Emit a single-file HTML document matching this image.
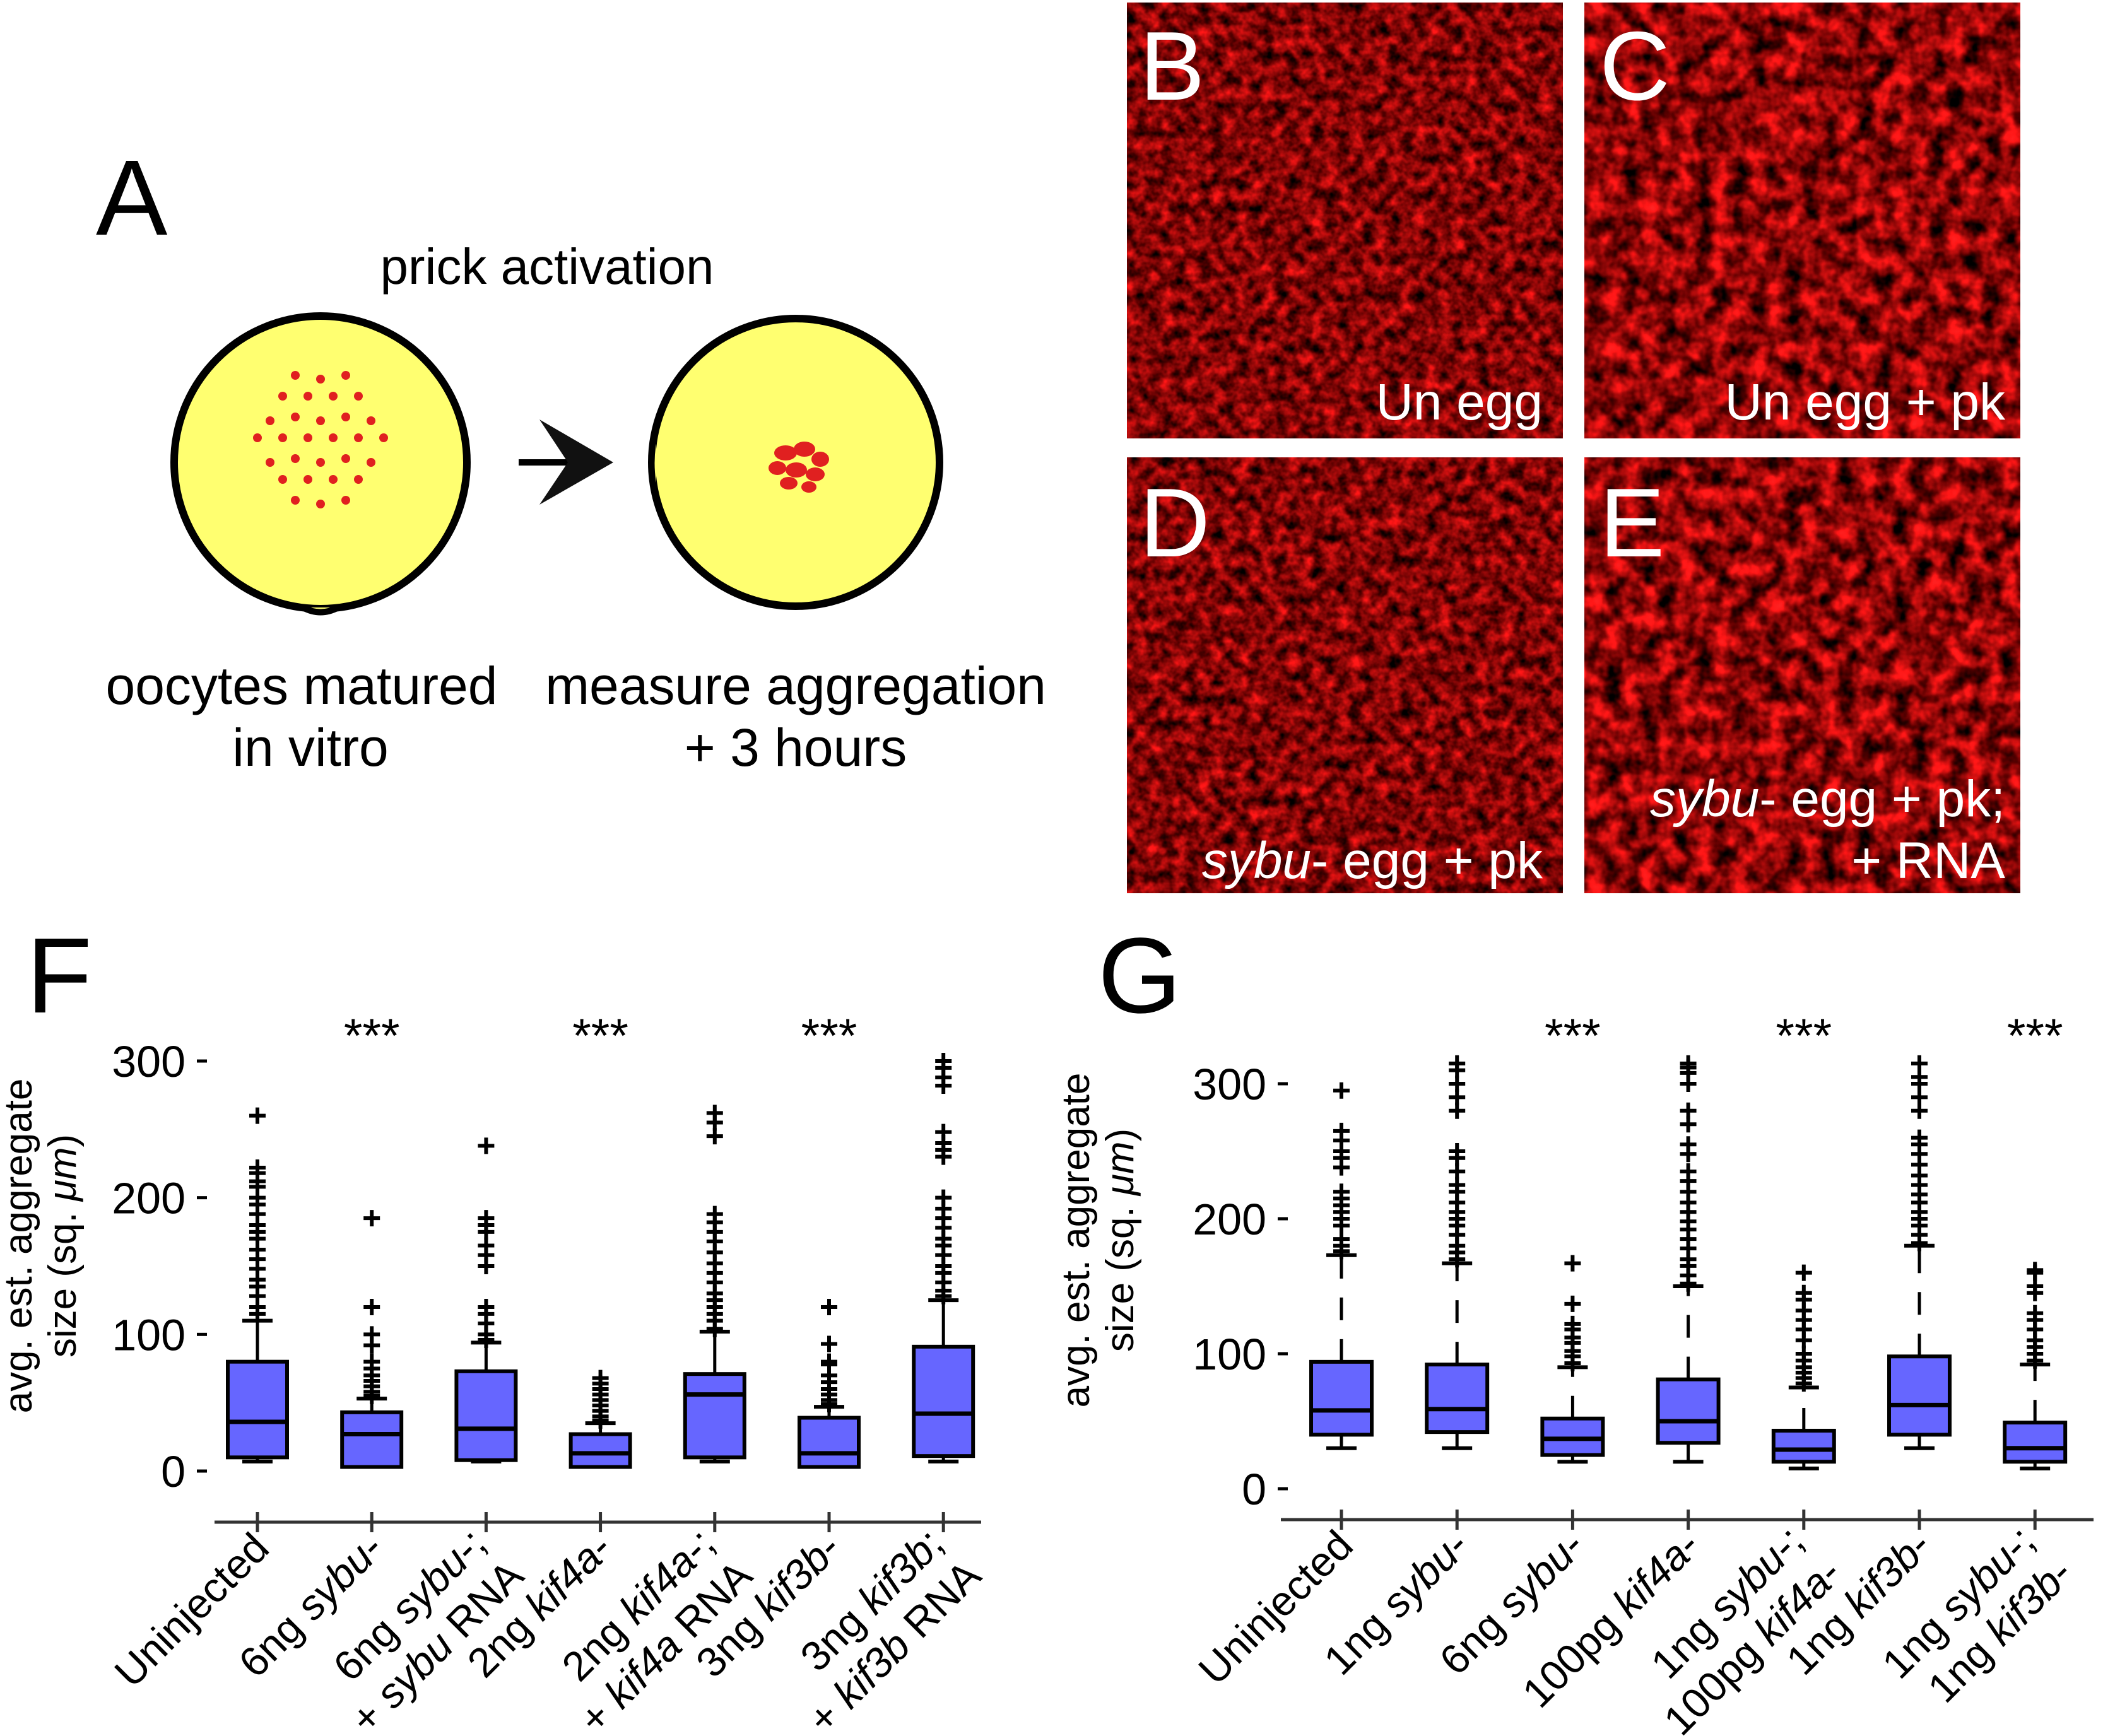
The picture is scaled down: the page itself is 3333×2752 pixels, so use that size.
<!DOCTYPE html>
<html><head><meta charset="utf-8"><style>
html,body{margin:0;padding:0;background:#fff;}
svg{display:block;font-family:"Liberation Sans",Arial,sans-serif;}
</style></head><body>
<svg id="fig" width="3333" height="2752" viewBox="0 0 3333 2752" xmlns="http://www.w3.org/2000/svg">
<defs>
<filter id="fluor" x="0" y="0" width="100%" height="100%" color-interpolation-filters="sRGB">
<feTurbulence type="fractalNoise" baseFrequency="0.05" numOctaves="3" seed="7" result="n"/>
<feColorMatrix type="matrix" values="1.5 0 0 0 -0.25  0.2 0 0 0 -0.08  0.2 0 0 0 -0.08  0 0 0 0 1"/>
</filter>
<filter id="fluor2" x="0" y="0" width="100%" height="100%" color-interpolation-filters="sRGB">
<feTurbulence type="fractalNoise" baseFrequency="0.035" numOctaves="3" seed="3" result="n"/>
<feColorMatrix type="matrix" values="1.8 0 0 0 -0.35  0.25 0 0 0 -0.1  0.25 0 0 0 -0.1  0 0 0 0 1"/>
</filter>
</defs>
<g>
<text x="152" y="372" font-size="170">A</text>
<text x="867" y="450" font-size="80" text-anchor="middle">prick activation</text>
<circle cx="508" cy="733" r="232" fill="#ffff70" stroke="#000" stroke-width="12"/>
<path d="M480 963 Q508 978 536 963" fill="#ffff70" stroke="#000" stroke-width="10"/>
<g id="dots" fill="#e02020"></g>
<circle cx="1261" cy="733" r="228" fill="#ffff70" stroke="#000" stroke-width="12"/>
<path d="M1040 680 Q1025 733 1040 790" fill="#ffff70" stroke="#000" stroke-width="10"/>
<g fill="#e02020">
<ellipse cx="1245" cy="718" rx="18" ry="12"/><ellipse cx="1275" cy="712" rx="17" ry="12"/><ellipse cx="1300" cy="728" rx="14" ry="12"/>
<ellipse cx="1232" cy="742" rx="14" ry="11"/><ellipse cx="1262" cy="745" rx="17" ry="12"/><ellipse cx="1292" cy="752" rx="15" ry="11"/>
<ellipse cx="1250" cy="766" rx="14" ry="10"/><ellipse cx="1282" cy="772" rx="12" ry="9"/>
</g>
<path d="M822 733 L930 733" stroke="#000" stroke-width="10"/>
<path d="M972 733 L855 665 L900 733 L855 800 Z" fill="#111"/>
<text x="478" y="1116" font-size="84" text-anchor="middle">oocytes matured</text>
<text x="492" y="1214" font-size="84" text-anchor="middle">in vitro</text>
<text x="1261" y="1116" font-size="84" text-anchor="middle">measure aggregation</text>
<text x="1261" y="1214" font-size="84" text-anchor="middle">+ 3 hours</text>
</g>
<g>
<rect x="1786" y="4" width="691" height="691" fill="#600" filter="url(#fluor)"/>
<text x="1806" y="158" font-size="155" fill="#fff">B</text>
<text x="2445" y="665" font-size="82" fill="#fff" text-anchor="end">Un egg</text>
</g>
<g>
<rect x="2511" y="4" width="691" height="691" fill="#600" filter="url(#fluor2)"/>
<text x="2535" y="158" font-size="155" fill="#fff">C</text>
<text x="3178" y="665" font-size="82" fill="#fff" text-anchor="end">Un egg + pk</text>
</g>
<g>
<rect x="1786" y="725" width="691" height="691" fill="#600" filter="url(#fluor)"/>
<text x="1806" y="882" font-size="155" fill="#fff">D</text>
<text x="2445" y="1392" font-size="82" fill="#fff" text-anchor="end"><tspan font-style="italic">sybu</tspan>- egg + pk</text>
</g>
<g>
<rect x="2511" y="725" width="691" height="691" fill="#600" filter="url(#fluor2)"/>
<text x="2535" y="882" font-size="155" fill="#fff">E</text>
<text x="3178" y="1294" font-size="82" fill="#fff" text-anchor="end"><tspan font-style="italic">sybu</tspan>- egg + pk;</text>
<text x="3178" y="1392" font-size="82" fill="#fff" text-anchor="end">+ RNA</text>
</g>
<text x="42" y="1605" font-size="170">F</text>
<text x="1740" y="1605" font-size="170">G</text>
<g id="chartF"></g>
<g id="chartG"></g>
</svg>
<script>
// Panel F data
const fCategories = [["Uninjected"],["6ng |sybu|-"],["6ng |sybu|-;","+ |sybu| RNA"],["2ng |kif4a|-"],["2ng |kif4a|-;","+ |kif4a| RNA"],["3ng |kif3b|-"],["3ng |kif3b|;","+ |kif3b| RNA"]];
const fWhiskerLow = [7, 3, 7, 3, 7, 3, 7];
const fQ1 = [10, 3, 8, 3, 10, 3, 11];
const fMedian = [36, 27, 31, 13, 56, 13, 42];
const fQ3 = [80, 43, 73, 27, 71, 39, 91];
const fWhiskerHigh = [110, 53, 94, 35, 102, 47, 125];
const fOutliers = [
 [115,120,128,135,140,148,155,162,170,175,180,188,195,200,208,212,218,222,260],
 [55,58,62,66,70,75,80,92,100,120,185],
 [96,100,108,115,120,150,158,165,175,180,185,238],
 [37,40,44,48,52,56,60,64,68],
 [104,110,115,120,125,130,138,145,152,160,168,175,182,188,245,255,262],
 [49,52,56,60,65,70,78,80,93,120],
 [128,132,138,145,150,158,165,170,178,185,192,200,230,235,240,248,282,288,295,300]
];
const fStars = [1, 3, 5];
const fTicks = [0, 100, 200, 300];
// Panel G data
const gCategories = [["Uninjected"],["1ng |sybu|-"],["6ng |sybu|-"],["100pg |kif4a|-"],["1ng |sybu|-;","100pg |kif4a|-"],["1ng |kif3b|-"],["1ng |sybu|-;","1ng |kif3b|-"]];
const gWhiskerLow = [30, 30, 20, 20, 15, 30, 15];
const gQ1 = [40, 42, 25, 34, 20, 40, 20];
const gMedian = [58, 59, 37, 50, 29, 62, 30];
const gQ3 = [94, 92, 52, 81, 43, 98, 49];
const gWhiskerHigh = [173, 167, 90, 150, 75, 180, 92];
const gOutliers = [
 [176,180,185,195,200,205,210,215,220,238,245,250,258,265,295],
 [170,175,180,188,195,200,205,212,220,225,235,245,250,280,290,300,310,315],
 [93,98,102,108,112,118,122,137,167],
 [152,158,165,170,178,185,192,198,205,212,220,228,235,248,255,270,280,300,308,312,315],
 [78,82,86,90,95,100,110,118,125,132,140,145,160],
 [182,188,195,200,205,212,218,225,232,240,248,255,260,280,290,300,305,315],
 [95,100,105,110,118,125,130,145,150,160,162]
];
const gStars = [2, 4, 6];
const gTicks = [0, 100, 200, 300];

const NS = "http://www.w3.org/2000/svg";
function mk(parent, tag, attrs) {
  const e = document.createElementNS(NS, tag);
  for (const k in attrs) e.setAttribute(k, attrs[k]);
  parent.appendChild(e);
  return e;
}
function addLabelText(el, str) {
  str.split("|").forEach((part, i) => {
    const t = document.createElementNS(NS, "tspan");
    if (i % 2 === 1) t.setAttribute("font-style", "italic");
    t.textContent = part;
    el.appendChild(t);
  });
}

function drawChart(g, cfg) {
  const y = v => cfg.y0 + (cfg.y300 - cfg.y0) * v / 300;
  const x = i => cfg.xs + i * cfg.step;
  cfg.ticks.forEach(t => {
    const tk = mk(g, "line", {x1: cfg.tickX, x2: cfg.tickX + 16, y1: y(t), y2: y(t), stroke: "#000", "stroke-width": 5});
    
    
    const tl = mk(g, "text", {x: cfg.tickX - 18, y: y(t) + 25, "font-size": 70, "text-anchor": "end"});
    tl.textContent = t;
    
    
  });
  const yt = mk(g, "text", {transform: `translate(${cfg.titleX},${cfg.titleY}) rotate(-90)`, "font-size": 62, "text-anchor": "middle"});
  
  
  const t1 = mk(yt, "tspan", {x: 0, dy: 0}); t1.textContent = "avg. est. aggregate";
  const t2 = mk(yt, "tspan", {x: 0, dy: 70}); t2.textContent = "size (sq. ";
  const t3 = mk(yt, "tspan", {"font-style": "italic"}); t3.textContent = "\u03bcm";
  const t4 = mk(yt, "tspan", {}); t4.textContent = ")";
  const ax = mk(g, "line", {x1: cfg.axX1, x2: cfg.axX2, y1: cfg.axY, y2: cfg.axY, stroke: "#333", "stroke-width": 5});
  
  
  const bw = cfg.bw;
  cfg.cats.forEach((lines, i) => {
    const cx = x(i);
    const xt = mk(g, "line", {x1: cx, x2: cx, y1: cfg.axY - 16, y2: cfg.axY + 16, stroke: "#333", "stroke-width": 5});
    
    
    const ax0 = cx + 22, ay0 = cfg.axY + 45;
    const lt = mk(g, "text", {transform: `translate(${ax0},${ay0}) rotate(-45)`, "font-size": 66, "text-anchor": "end"});
    
    
    const n = lines.length;
    lines.forEach((ln, k) => {
      const ts = mk(lt, "tspan", {x: n === 1 ? 0 : (k === 0 ? -8 : -2), dy: k === 0 ? -(n - 1) * 18 : 78});
      addLabelText(ts, ln);
    });
    const wl = mk(g, "line", {x1: cx, x2: cx, y1: y(cfg.q3[i]), y2: y(cfg.hi[i]), stroke: "#000", "stroke-width": 5, "stroke-dasharray": cfg.dash});
    
    
    const wl2 = mk(g, "line", {x1: cx, x2: cx, y1: y(cfg.q1[i]), y2: y(cfg.lo[i]), stroke: "#000", "stroke-width": 5});
    
    
    [cfg.hi[i], cfg.lo[i]].forEach(v => {
      const cap = mk(g, "line", {x1: cx - 24, x2: cx + 24, y1: y(v), y2: y(v), stroke: "#000", "stroke-width": 6});
      
      
    });
    const box = mk(g, "rect", {x: cx - bw / 2, y: y(cfg.q3[i]), width: bw, height: y(cfg.q1[i]) - y(cfg.q3[i]), fill: "#6666ff", stroke: "#000", "stroke-width": 6});
    
    
    const md = mk(g, "line", {x1: cx - bw / 2, x2: cx + bw / 2, y1: y(cfg.med[i]), y2: y(cfg.med[i]), stroke: "#000", "stroke-width": 7});
    
    
    cfg.out[i].forEach(v => {
      const p = mk(g, "path", {d: `M${cx - 13} ${y(v)} H${cx + 13} M${cx} ${y(v) - 13} V${y(v) + 13}`, stroke: "#000", "stroke-width": 6});
      
      
    });
  });
  cfg.stars.forEach(i => {
    const s = mk(g, "text", {x: x(i), y: cfg.starY, "font-size": 76, "text-anchor": "middle"});
    s.textContent = "***";
    
    
  });
}

drawChart(document.getElementById("chartF"), {
  y0: 2332, y300: 1682, xs: 408, step: 181.2, bw: 94, tickX: 312,
  titleX: 50, titleY: 1975, axX1: 340, axX2: 1555, axY: 2413, starY: 1668,
  cats: fCategories, lo: fWhiskerLow, q1: fQ1, med: fMedian, q3: fQ3, hi: fWhiskerHigh, out: fOutliers,
  stars: fStars, ticks: fTicks, dash: "none"
});
drawChart(document.getElementById("chartG"), {
  y0: 2360, y300: 1718, xs: 2126, step: 183.2, bw: 96, tickX: 2025,
  titleX: 1726, titleY: 1966, axX1: 2030, axX2: 3318, axY: 2409, starY: 1668,
  cats: gCategories, lo: gWhiskerLow, q1: gQ1, med: gMedian, q3: gQ3, hi: gWhiskerHigh, out: gOutliers,
  stars: gStars, ticks: gTicks, dash: "36 30"
});

const dotsG = document.getElementById("dots");
const dotRows = [[-3,2],[-4,4],[-5,5],[-5,5],[-5,4],[-4,3],[-2,2]];
dotRows.forEach((r, ri) => {
  for (let c = r[0]; c <= r[1]; c += 1) {
    if ((c + ri) % 2 !== 0) continue;
    const d = mk(dotsG, "circle", {cx: 508 + c * 20, cy: 635 + ri * 33 - 40 + (c % 4 === 0 ? 6 : 0), r: 7});
    
    
  }
});
</script>
</body></html>
